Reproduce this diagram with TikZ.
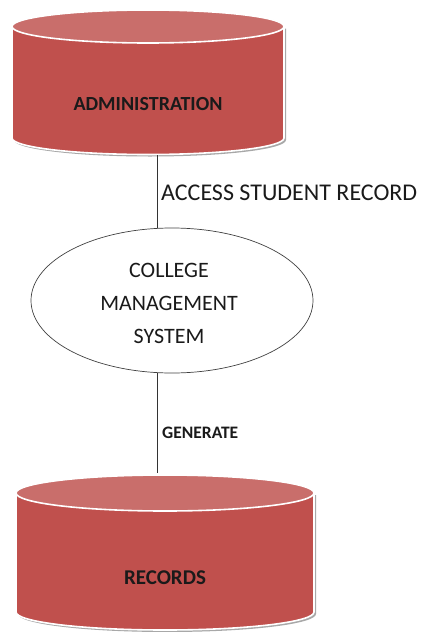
\documentclass[tikz,border=0pt]{standalone}
\usepackage{fontspec}
\setmainfont{Carlito}
\usetikzlibrary{shapes.geometric}
\definecolor{cylbody}{HTML}{C0504D}
\definecolor{cyltop}{HTML}{C96E6B}
\definecolor{cylshadow}{HTML}{A8A8A8}
\definecolor{txt}{HTML}{1A1A1A}
\tikzset{
  lbl/.style={inner sep=0pt, anchor=west, text=txt},
  link/.style={draw=black!80, line width=0.8pt},
}
\newcommand{\mycyl}[6]{% name, cx, topy, boty, rx, ry
  \fill[cylshadow] (#2-#5+2,#3+2) -- (#2-#5+2,#4+2) arc[start angle=180,end angle=360,x radius=#5,y radius=-#6] -- (#2+#5+2,#3+2) -- cycle;
  \fill[cylbody] (#2-#5,#3) -- (#2-#5,#4) arc[start angle=180,end angle=360,x radius=#5,y radius=-#6] -- (#2+#5,#3) -- cycle;
  \draw[white, line width=1.6pt] (#2-#5,#3) -- (#2-#5,#4) arc[start angle=180,end angle=360,x radius=#5,y radius=-#6] -- (#2+#5,#3);
  \draw[white, line width=1.6pt, fill=cyltop] (#2,#3) ellipse[x radius=#5, y radius=#6];
  \coordinate (#1top) at (#2,#3-#6);
  \coordinate (#1bot) at (#2,#4+#6);
}
\begin{document}
\begin{tikzpicture}[x=1pt,y=-1pt]
\useasboundingbox (0,0) rectangle (422,632);
% top cylinder
\mycyl{adm}{148}{26.5}{138}{136}{16.5}
\node[text=txt, font=\bfseries\fontsize{20}{22}\selectfont] (admin) at (148,104) {ADMINISTRATION};
% ellipse
\node[draw=black!75, line width=0.7pt, ellipse, minimum width=282pt, minimum height=145pt, inner sep=0pt] (cms) at (172,300.5) {};
\node[text=txt, align=center, font=\fontsize{22}{33}\selectfont, inner sep=0pt] (cmstext) at (169,303) {COLLEGE\\MANAGEMENT\\SYSTEM};
% bottom cylinder
\mycyl{rec}{165}{493}{612}{149}{18}
\node[text=txt, font=\bfseries\fontsize{21}{24}\selectfont] (records) at (165,578) {RECORDS};
% connectors
\coordinate (c1a) at (157,155);
\coordinate (c1b) at (157,228);
\draw[link] (c1a) -- (c1b);
\coordinate (c2a) at (157,373);
\coordinate (c2b) at (157,473);
\draw[link] (c2a) -- (c2b);
\node[lbl, font=\fontsize{24}{26}\selectfont] (acc) at (161,193) {ACCESS STUDENT RECORD};
\node[lbl, font=\bfseries\fontsize{17.5}{20}\selectfont] (gen) at (162,433) {GENERATE};
\end{tikzpicture}
\end{document}
